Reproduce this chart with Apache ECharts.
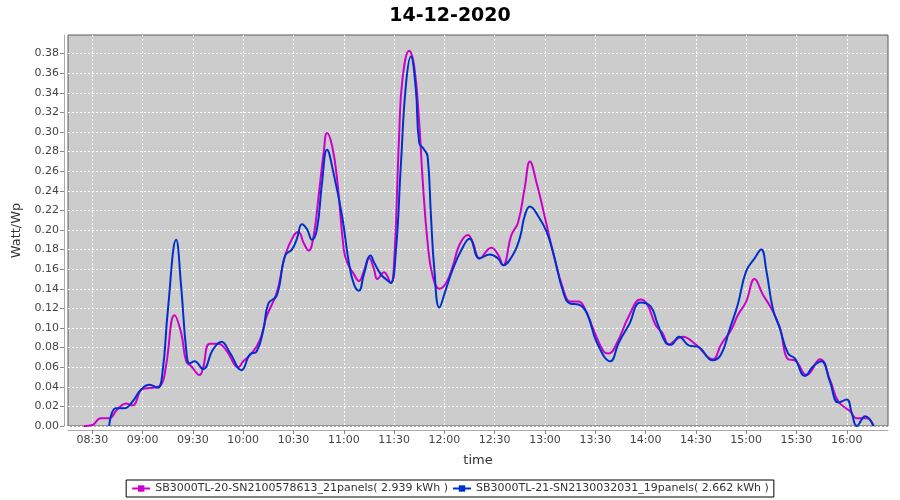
<!DOCTYPE html>
<html>
<head>
<meta charset="utf-8">
<script src="https://cdn.jsdelivr.net/npm/echarts@6/dist/echarts.min.js"></script>
<style>
  html, body { margin: 0; padding: 0; background: #fff; }
  #chart { width: 900px; height: 500px; }
</style>
</head>
<body>
<div id="chart"></div>
<script>
// 14-12-2020 - magenta string (SN2100578613) and blue string (SN2130032031)
const title = '14-12-2020'
const nameA = 'SB3000TL-20-SN2100578613_21panels( 2.939 kWh )'
const nameB = 'SB3000TL-21-SN2130032031_19panels( 2.662 kWh )'

const timesA = ['08:25', '08:30', '08:35', '08:40', '08:45', '08:50', '08:54', '09:00', '09:06', '09:11',
  '09:14', '09:19', '09:23', '09:26', '09:29', '09:34', '09:36', '09:40', '09:45', '09:50',
  '09:55', '09:57', '10:00', '10:05', '10:10', '10:14', '10:20', '10:25', '10:30', '10:33',
  '10:36', '10:39', '10:42', '10:45', '10:48', '10:50', '10:53', '10:56', '11:00', '11:02',
  '11:06', '11:09', '11:12', '11:15', '11:18', '11:20', '11:24', '11:28', '11:30', '11:33',
  '11:35', '11:39', '11:42', '11:45', '11:47', '11:50', '11:53', '11:57', '12:01', '12:05',
  '12:09', '12:14', '12:17', '12:21', '12:28', '12:32', '12:35', '12:40', '12:44', '12:48',
  '12:51', '12:55', '12:59', '13:05', '13:11', '13:15', '13:20', '13:24', '13:29', '13:35',
  '13:38', '13:43', '13:50', '13:57', '14:01', '14:06', '14:10', '14:14', '14:18', '14:22',
  '14:30', '14:40', '14:45', '14:51', '14:55', '15:00', '15:05', '15:10', '15:15', '15:20',
  '15:25', '15:29', '15:36', '15:44', '15:50', '15:55', '16:02', '16:06', '16:12', '16:16']
const valuesA = [0.000, 0.001, 0.008, 0.008, 0.017, 0.023, 0.021, 0.038, 0.039, 0.042,
  0.062, 0.113, 0.095, 0.066, 0.061, 0.052, 0.059, 0.084, 0.084, 0.077,
  0.062, 0.060, 0.066, 0.074, 0.088, 0.112, 0.136, 0.174, 0.194, 0.198,
  0.187, 0.179, 0.194, 0.235, 0.279, 0.299, 0.286, 0.252, 0.180, 0.167,
  0.155, 0.148, 0.158, 0.172, 0.160, 0.150, 0.157, 0.146, 0.167, 0.296,
  0.354, 0.383, 0.367, 0.309, 0.252, 0.187, 0.153, 0.140, 0.146, 0.163,
  0.185, 0.195, 0.187, 0.171, 0.182, 0.175, 0.164, 0.195, 0.208, 0.244,
  0.270, 0.248, 0.220, 0.176, 0.139, 0.127, 0.127, 0.119, 0.098, 0.076,
  0.074, 0.085, 0.112, 0.129, 0.124, 0.103, 0.095, 0.083, 0.088, 0.091,
  0.083, 0.068, 0.083, 0.098, 0.113, 0.127, 0.150, 0.134, 0.120, 0.101,
  0.068, 0.067, 0.052, 0.068, 0.047, 0.025, 0.015, 0.008, 0.008, 0.000]

const timesB = ['08:40', '08:44', '08:49', '08:54', '08:59', '09:04', '09:09', '09:12', '09:15', '09:20',
  '09:23', '09:26', '09:28', '09:31', '09:36', '09:42', '09:47', '09:52', '09:59', '10:04',
  '10:08', '10:12', '10:15', '10:20', '10:25', '10:29', '10:32', '10:35', '10:38', '10:41',
  '10:44', '10:47', '10:50', '10:54', '10:59', '11:03', '11:06', '11:09', '11:12', '11:16',
  '11:18', '11:22', '11:25', '11:28', '11:31', '11:34', '11:37', '11:40', '11:43', '11:45',
  '11:48', '11:50', '11:52', '11:54', '11:57', '12:01', '12:05', '12:10', '12:15', '12:21',
  '12:27', '12:32', '12:35', '12:41', '12:45', '12:48', '12:51', '12:56', '13:01', '13:05',
  '13:11', '13:15', '13:20', '13:25', '13:31', '13:39', '13:44', '13:50', '13:57', '14:03',
  '14:07', '14:12', '14:15', '14:20', '14:26', '14:31', '14:40', '14:45', '14:50', '14:55',
  '15:00', '15:05', '15:09', '15:12', '15:16', '15:20', '15:25', '15:29', '15:35', '15:40',
  '15:45', '15:50', '15:55', '16:00', '16:03', '16:06', '16:11', '16:16']
const valuesB = [0.000, 0.018, 0.018, 0.025, 0.037, 0.042, 0.039, 0.057, 0.117, 0.190,
  0.142, 0.078, 0.064, 0.066, 0.058, 0.078, 0.086, 0.075, 0.057, 0.073,
  0.076, 0.098, 0.125, 0.133, 0.174, 0.180, 0.191, 0.206, 0.201, 0.190,
  0.201, 0.248, 0.282, 0.257, 0.214, 0.167, 0.145, 0.138, 0.155, 0.174,
  0.167, 0.155, 0.150, 0.146, 0.177, 0.265, 0.347, 0.377, 0.343, 0.289,
  0.282, 0.275, 0.214, 0.160, 0.121, 0.140, 0.160, 0.179, 0.191, 0.171,
  0.175, 0.171, 0.164, 0.175, 0.192, 0.215, 0.224, 0.214, 0.198, 0.176,
  0.136, 0.125, 0.124, 0.115, 0.085, 0.066, 0.085, 0.103, 0.126, 0.122,
  0.105, 0.085, 0.083, 0.091, 0.082, 0.081, 0.067, 0.073, 0.098, 0.124,
  0.158, 0.171, 0.180, 0.159, 0.119, 0.100, 0.074, 0.069, 0.051, 0.061,
  0.066, 0.045, 0.024, 0.027, 0.013, 0.000, 0.010, 0.000]

const timeTicks = ['08:30', '09:00', '09:30', '10:00', '10:30', '11:00', '11:30', '12:00',
  '12:30', '13:00', '13:30', '14:00', '14:30', '15:00', '15:30', '16:00']

const toMin = (s) => {
  const p = s.split(':')
  return Number(p[0]) * 60 + Number(p[1])
}
const toLabel = (m) => {
  const h = Math.floor(m / 60)
  const mm = Math.round(m % 60)
  return String(h).padStart(2, '0') + ':' + String(mm).padStart(2, '0')
}
const pairs = (times, vals) => times.map((t, i) => [toMin(t), vals[i]])

const font = 'DejaVu Sans'
const chart = echarts.init(document.getElementById('chart'))
chart.setOption({
  animation: false,
  backgroundColor: '#fff',
  title: {
    text: title,
    left: 'center',
    top: 2,
    textStyle: { fontFamily: font, fontSize: 19, fontWeight: 'bold', color: '#000' }
  },
  legend: {
    bottom: 3,
    left: 'center',
    borderColor: '#000',
    borderWidth: 1,
    padding: [3, 5],
    itemGap: 4,
    itemWidth: 18,
    itemHeight: 8,
    textStyle: { fontFamily: font, fontSize: 11, color: '#333' },
    data: [nameA, nameB]
  },
  grid: {
    left: 68,
    right: 12,
    top: 35,
    bottom: 74,
    show: true,
    backgroundColor: '#cccccc',
    borderColor: '#5a5a5a',
    borderWidth: 1
  },
  xAxis: {
    type: 'value',
    min: 495.5,
    max: 984.6,
    offset: 4,
    name: 'time',
    nameLocation: 'middle',
    nameGap: 24,
    nameTextStyle: { fontFamily: font, fontSize: 13, color: '#333' },
    axisLine: { show: true, onZero: false, lineStyle: { color: '#aaaaaa' } },
    axisTick: {
      show: true,
      length: 4,
      customValues: timeTicks.map(toMin),
      lineStyle: { color: '#888' }
    },
    axisLabel: {
      customValues: timeTicks.map(toMin),
      fontFamily: font,
      fontSize: 11,
      color: '#444',
      margin: 5,
      formatter: (v) => toLabel(v)
    },
    splitLine: {
      show: true,
      lineStyle: { color: '#ffffff', type: [2, 2], width: 1 }
    }
  },
  yAxis: {
    type: 'value',
    min: 0,
    max: 0.399,
    interval: 0.02,
    offset: 4,
    name: 'Watt/Wp',
    nameLocation: 'middle',
    nameGap: 38,
    nameTextStyle: { fontFamily: font, fontSize: 13, color: '#333' },
    axisLine: { show: true, lineStyle: { color: '#aaaaaa' } },
    axisTick: { show: true, length: 4, lineStyle: { color: '#888' } },
    axisLabel: {
      fontFamily: font,
      fontSize: 11,
      color: '#444',
      margin: 5,
      showMaxLabel: false,
      formatter: (v) => v.toFixed(2)
    },
    splitLine: {
      show: true,
      showMaxLine: false,
      lineStyle: { color: '#ffffff', type: [2, 2], width: 1 }
    }
  },
  series: [
    {
      name: nameA,
      type: 'line',
      smooth: 0.45,
      symbol: 'rect',
      symbolSize: 3,
      showSymbol: false,
      lineStyle: { color: '#cc00cc', width: 2 },
      itemStyle: { color: '#cc00cc' },
      data: pairs(timesA, valuesA)
    },
    {
      name: nameB,
      type: 'line',
      smooth: 0.45,
      symbol: 'rect',
      symbolSize: 3,
      showSymbol: false,
      lineStyle: { color: '#0030cc', width: 2 },
      itemStyle: { color: '#0030cc' },
      data: pairs(timesB, valuesB)
    }
  ]
})
</script>
</body>
</html>
